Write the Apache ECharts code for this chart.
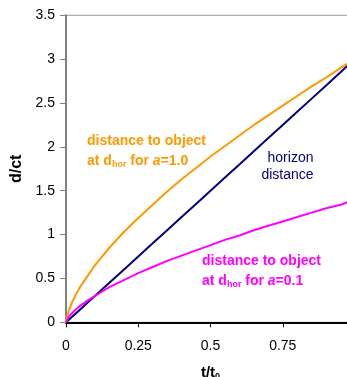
<!DOCTYPE html>
<html><head><meta charset="utf-8">
<script src="https://cdn.jsdelivr.net/npm/echarts@6/dist/echarts.min.js"></script>
<style>html,body{margin:0;padding:0;background:#fff}#c{width:347px;height:377px}</style>
</head><body><div id="c"></div>
<script>
const tValues = [0, 0.01, 0.02, 0.03, 0.05, 0.075, 0.1, 0.15, 0.2, 0.25, 0.3, 0.35, 0.4, 0.45, 0.5, 0.55, 0.6, 0.65, 0.7, 0.75, 0.8, 0.85, 0.9, 0.95, 0.975];
const horizon = [0, 0.03, 0.06, 0.09, 0.15, 0.225, 0.3, 0.45, 0.6, 0.75, 0.9, 1.05, 1.2, 1.35, 1.5, 1.65, 1.8, 1.95, 2.1, 2.25, 2.4, 2.55, 2.7, 2.85, 2.93];
const objA10 = [0, 0.14, 0.22, 0.29, 0.41, 0.53, 0.65, 0.85, 1.03, 1.19, 1.34, 1.49, 1.63, 1.76, 1.89, 2.01, 2.13, 2.25, 2.36, 2.47, 2.58, 2.69, 2.79, 2.9, 2.95];
const objA01 = [0, 0.065, 0.10, 0.135, 0.19, 0.25, 0.30, 0.40, 0.48, 0.56, 0.63, 0.70, 0.76, 0.82, 0.88, 0.94, 0.99, 1.05, 1.10, 1.15, 1.20, 1.25, 1.30, 1.34, 1.37];
const xTicks = [0, 0.25, 0.5, 0.75, 1];
const yTicks = [0, 0.5, 1, 1.5, 2, 2.5, 3, 3.5];

const pairs = ys => tValues.map((t, i) => [t, ys[i]]);
const font = 'Arial, "Liberation Sans", sans-serif';
const chart = echarts.init(document.getElementById('c'), null, {renderer: 'canvas'});
const lineS = (name, ys, color) => ({
  name, type: 'line', data: pairs(ys), showSymbol: false, symbol: 'none',
  lineStyle: {color, width: 2}, itemStyle: {color}, animation: false, z: 3
});
const richLab = (color) => ({
  n: {fill: color, font: 'bold 14px ' + font},
  s: {fill: color, font: 'bold 9px ' + font, padding: [6, 0, 0, 0]},
  i: {fill: color, font: 'italic bold 14px ' + font}
});
chart.setOption({
  animation: false,
  grid: {left: 66, top: 15.3, bottom: 54.7, right: -8, outerBoundsMode: 'none', containLabel: false,
         show: true, borderColor: '#9a9a9a', borderWidth: 1},
  xAxis: {
    type: 'value', min: 0, max: 1, interval: 0.25,
    name: '{m|t/t}{s|0}', nameLocation: 'middle', nameGap: 43,
    nameTextStyle: {rich: {m: {fontFamily: font, fontWeight: 'bold', fontSize: 15, color: '#000'}, s: {fontFamily: font, fontWeight: 'bold', fontSize: 9, color: '#000', padding: [7, 0, 0, 0]}}},
    axisLine: {lineStyle: {color: '#000', width: 2}},
    axisTick: {show: true, length: 5, lineStyle: {color: '#000', width: 1}},
    axisLabel: {fontFamily: font, fontSize: 14, color: '#000', margin: 17,
      formatter: v => { const i = xTicks.indexOf(v); return i >= 0 ? String(xTicks[i]) : ''; }},
    splitLine: {show: false}
  },
  yAxis: {
    type: 'value', min: 0, max: 3.5, interval: 0.5,
    name: 'd/ct', nameLocation: 'middle', nameGap: 40,
    nameTextStyle: {fontFamily: font, fontWeight: 'bold', fontSize: 16, color: '#000'},
    axisLine: {show: true, lineStyle: {color: '#808080', width: 2}},
    axisTick: {show: true, length: 6, lineStyle: {color: '#808080', width: 1}},
    axisLabel: {fontFamily: font, fontSize: 14, color: '#000', margin: 11,
      formatter: v => { const i = yTicks.indexOf(v); return i >= 0 ? String(yTicks[i]) : ''; }},
    splitLine: {show: false}
  },
  series: [
    lineS('horizon', horizon, '#000080'),
    lineS('a1', objA10, '#FF9900'),
    lineS('a01', objA01, '#FF00FF')
  ],
  graphic: [
    {type: 'text', x: 87, y: 141.5, z: 10, style: {text: 'distance to object', fill: '#FF9900', font: 'bold 14px ' + font, textVerticalAlign: 'middle'}},
    {type: 'text', x: 87, y: 161.5, z: 10, style: {text: '{n|at d}{s|hor}{n| for }{i|a}{n|=1.0}', fill: '#FF9900', rich: richLab('#FF9900'), verticalAlign: 'middle'}},
    {type: 'text', x: 202, y: 261.5, z: 10, style: {text: 'distance to object', fill: '#FF00FF', font: 'bold 14px ' + font, textVerticalAlign: 'middle'}},
    {type: 'text', x: 202, y: 281.5, z: 10, style: {text: '{n|at d}{s|hor}{n| for }{i|a}{n|=0.1}', fill: '#FF00FF', rich: richLab('#FF00FF'), verticalAlign: 'middle'}},
    {type: 'text', x: 290.5, y: 158.5, z: 10, style: {text: 'horizon', fill: '#000080', font: '14px ' + font, textAlign: 'center', textVerticalAlign: 'middle'}},
    {type: 'text', x: 287.5, y: 175.5, z: 10, style: {text: 'distance', fill: '#000080', font: '14px ' + font, textAlign: 'center', textVerticalAlign: 'middle'}}
  ]
});
</script></body></html>
